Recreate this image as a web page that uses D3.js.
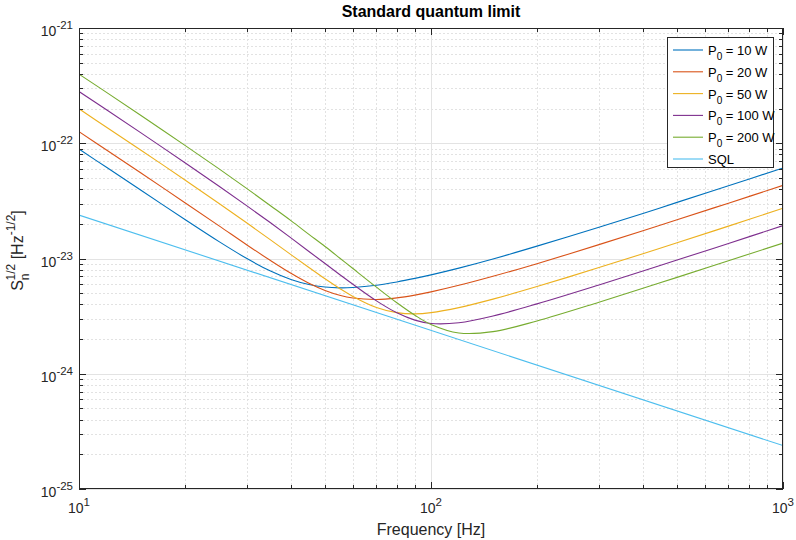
<!DOCTYPE html>
<html lang="en">
<head>
  <meta charset="UTF-8">
  <title>Standard quantum limit</title>
  <script src="https://d3js.org/d3.v7.min.js"></script>
  <style>
    body
    {
      margin: 0;
      padding: 0;
      background-color: #fff;
      font-family: "Liberation Sans", Arial, sans-serif;
    }
  </style>
</head>
<body>
  <svg width="796" height="540"></svg>
  <script>
    // values
    const freqs = [10, 12, 15, 20, 25, 30, 35, 40, 45, 50, 55, 60, 70, 80, 90, 100, 120, 150, 200, 300, 400, 500, 700, 1000];
    const p10 = [8.90e-23, 6.15e-23, 3.91e-23, 2.18e-23, 1.40e-23, 9.98e-24, 7.78e-24, 6.57e-24, 5.94e-24, 5.65e-24, 5.56e-24, 5.60e-24, 5.86e-24, 6.26e-24, 6.72e-24, 7.21e-24, 8.25e-24, 9.90e-24, 1.28e-23, 1.87e-23, 2.46e-23, 3.07e-23, 4.28e-23, 6.10e-23];
    const p20 = [1.26e-22, 8.69e-23, 5.51e-23, 3.05e-23, 1.92e-23, 1.31e-23, 9.60e-24, 7.44e-24, 6.10e-24, 5.28e-24, 4.80e-24, 4.54e-24, 4.41e-24, 4.55e-24, 4.81e-24, 5.13e-24, 5.85e-24, 7.01e-24, 9.02e-24, 1.32e-23, 1.74e-23, 2.17e-23, 3.02e-23, 4.31e-23];
    const p50 = [1.99e-22, 1.37e-22, 8.70e-23, 4.80e-23, 3.00e-23, 2.03e-23, 1.45e-23, 1.08e-23, 8.36e-24, 6.67e-24, 5.50e-24, 4.69e-24, 3.76e-24, 3.39e-24, 3.31e-24, 3.39e-24, 3.75e-24, 4.44e-24, 5.71e-24, 8.34e-24, 1.10e-23, 1.37e-23, 1.91e-23, 2.73e-23];
    const p100 = [2.81e-22, 1.94e-22, 1.23e-22, 6.78e-23, 4.23e-23, 2.86e-23, 2.04e-23, 1.51e-23, 1.15e-23, 9.05e-24, 7.27e-24, 5.97e-24, 4.29e-24, 3.38e-24, 2.92e-24, 2.73e-24, 2.77e-24, 3.17e-24, 4.04e-24, 5.90e-24, 7.79e-24, 9.70e-24, 1.35e-23, 1.93e-23];
    const p200 = [3.98e-22, 2.75e-22, 1.74e-22, 9.59e-23, 5.99e-23, 4.04e-23, 2.87e-23, 2.13e-23, 1.62e-23, 1.27e-23, 1.01e-23, 8.18e-24, 5.64e-24, 4.13e-24, 3.22e-24, 2.68e-24, 2.26e-24, 2.32e-24, 2.87e-24, 4.17e-24, 5.51e-24, 6.86e-24, 9.57e-24, 1.36e-23];
    const sqlFreqs = [10, 1000];
    const sql = [2.38e-23, 2.38e-25];

    const seriesNames = ["10 W", "20 W", "50 W", "100 W", "200 W", "SQL"];
    const colors = ["#0072BD", "#D95319", "#EDB120", "#7E2F8E", "#77AC30", "#4DBEEE"];

    const xTicks = [10, 100, 1000];
    const yTicks = [1e-25, 1e-24, 1e-23, 1e-22, 1e-21];

    const margin = { left: 79, right: 13, top: 28, bottom: 51 };
    const width = 796, height = 540;
    const axisColor = "#262626";

    const svg = d3.select("svg");

    const x = d3.scaleLog().domain([10, 1000]).range([margin.left, width - margin.right]);
    const y = d3.scaleLog().domain([1e-25, 1e-21]).range([height - margin.bottom, margin.top]);

    const x0 = x.range()[0], x1 = x.range()[1];
    const y0 = y.range()[0], y1 = y.range()[1];

    svg.append("rect")
      .attr("x", x0).attr("y", y1)
      .attr("width", x1 - x0).attr("height", y0 - y1)
      .attr("fill", "#fff");

    // minor ticks: 2..9 times each decade
    const isMajor = v => Math.abs(Math.log10(v) - Math.round(Math.log10(v))) < 1e-9;
    const xAll = x.ticks(20);
    const yAll = [];
    for (let e = -25; e < -21; e++) {
      for (let m = 1; m < 10; m++) yAll.push(m * Math.pow(10, e));
    }
    yAll.push(1e-21);
    const xMinor = xAll.filter(v => !isMajor(v));
    const yMinor = yAll.filter(v => !isMajor(v));

    const grid = svg.append("g");
    grid.selectAll(".xminor").data(xMinor).enter().append("line")
      .attr("x1", d => Math.round(x(d)) + 0.5).attr("x2", d => Math.round(x(d)) + 0.5)
      .attr("y1", y0).attr("y2", y1)
      .attr("stroke", "#e2e2e2").attr("stroke-dasharray", "2,2");
    grid.selectAll(".yminor").data(yMinor).enter().append("line")
      .attr("y1", d => Math.round(y(d)) + 0.5).attr("y2", d => Math.round(y(d)) + 0.5)
      .attr("x1", x0).attr("x2", x1)
      .attr("stroke", "#e2e2e2").attr("stroke-dasharray", "2,2");
    grid.selectAll(".xmajor").data(xTicks).enter().append("line")
      .attr("x1", d => Math.round(x(d)) + 0.5).attr("x2", d => Math.round(x(d)) + 0.5)
      .attr("y1", y0).attr("y2", y1)
      .attr("stroke", "#e3e3e3");
    grid.selectAll(".ymajor").data(yTicks).enter().append("line")
      .attr("y1", d => Math.round(y(d)) + 0.5).attr("y2", d => Math.round(y(d)) + 0.5)
      .attr("x1", x0).attr("x2", x1)
      .attr("stroke", "#e3e3e3");

    // curves
    svg.append("clipPath").attr("id", "clip")
      .append("rect")
      .attr("x", x0).attr("y", y1)
      .attr("width", x1 - x0).attr("height", y0 - y1);

    const series = [
      { f: freqs, v: p10 },
      { f: freqs, v: p20 },
      { f: freqs, v: p50 },
      { f: freqs, v: p100 },
      { f: freqs, v: p200 },
      { f: sqlFreqs, v: sql }
    ];

    const line = d3.line()
      .x(d => x(d[0]))
      .y(d => y(d[1]))
      .curve(d3.curveCatmullRom.alpha(0.5));

    svg.append("g").attr("clip-path", "url(#clip)")
      .selectAll("path")
      .data(series)
      .enter()
      .append("path")
      .attr("d", s => line(s.f.map((f, i) => [f, s.v[i]])))
      .attr("fill", "none")
      .attr("stroke", (s, i) => colors[i])
      .attr("stroke-width", 1.1);

    // box and ticks on all four sides
    const axes = svg.append("g").attr("stroke", axisColor).attr("stroke-width", 1);
    axes.append("rect")
      .attr("x", x0 + 0.5).attr("y", y1 + 0.5)
      .attr("width", x1 - x0 - 1).attr("height", y0 - y1 - 1)
      .attr("fill", "none");

    xAll.forEach(v => {
      const len = isMajor(v) ? 7 : 4;
      const px = Math.round(x(v)) + 0.5;
      axes.append("line").attr("x1", px).attr("x2", px).attr("y1", y0).attr("y2", y0 - len);
      axes.append("line").attr("x1", px).attr("x2", px).attr("y1", y1).attr("y2", y1 + len);
    });
    yAll.forEach(v => {
      const len = isMajor(v) ? 7 : 4;
      const py = Math.round(y(v)) + 0.5;
      axes.append("line").attr("y1", py).attr("y2", py).attr("x1", x0).attr("x2", x0 + len);
      axes.append("line").attr("y1", py).attr("y2", py).attr("x1", x1).attr("x2", x1 - len);
    });

    // tick labels with exponents
    const labels = svg.append("g").attr("fill", axisColor).attr("font-size", 14);
    xTicks.forEach(v => {
      const t = labels.append("text")
        .attr("x", x(v)).attr("y", y0 + 24)
        .attr("text-anchor", "middle");
      t.append("tspan").text("10");
      t.append("tspan").attr("dy", -7).attr("font-size", 11.5).text(Math.round(Math.log10(v)));
    });
    yTicks.forEach(v => {
      const t = labels.append("text")
        .attr("x", x0 - 6).attr("y", y(v) + 8)
        .attr("text-anchor", "end");
      t.append("tspan").text("10");
      t.append("tspan").attr("dy", -7).attr("font-size", 11.5).text(Math.round(Math.log10(v)));
    });

    // title and axis labels
    svg.append("text")
      .attr("x", (x0 + x1) / 2).attr("y", 17)
      .attr("text-anchor", "middle")
      .attr("font-size", 16).attr("font-weight", "bold")
      .attr("fill", "#000")
      .text("Standard quantum limit");

    svg.append("text")
      .attr("x", (x0 + x1) / 2).attr("y", 535)
      .attr("text-anchor", "middle")
      .attr("font-size", 16)
      .attr("fill", axisColor)
      .text("Frequency [Hz]");

    const yl = svg.append("text")
      .attr("transform", `translate(23,${(y0 + y1) / 2 - 8}) rotate(-90)`)
      .attr("text-anchor", "middle")
      .attr("font-size", 16)
      .attr("fill", axisColor);
    yl.append("tspan").text("S");
    yl.append("tspan").attr("dy", 6).attr("font-size", 12).text("n");
    yl.append("tspan").attr("dx", -7).attr("dy", -14).attr("font-size", 12).text("1/2");
    yl.append("tspan").attr("dy", 8).text(" [Hz");
    yl.append("tspan").attr("dy", -8).attr("font-size", 12).text("-1/2");
    yl.append("tspan").attr("dy", 8).text("]");

    // legend
    const lg = svg.append("g");
    const lgX = 667, lgY = 37, lgW = 106, lgH = 130;
    lg.append("rect")
      .attr("x", lgX + 0.5).attr("y", lgY + 0.5)
      .attr("width", lgW).attr("height", lgH)
      .attr("fill", "#fff").attr("stroke", axisColor);

    seriesNames.forEach((name, i) => {
      const cy = lgY + 13 + i * 21.8;
      lg.append("line")
        .attr("x1", lgX + 6).attr("x2", lgX + 36)
        .attr("y1", cy).attr("y2", cy)
        .attr("stroke", colors[i]).attr("stroke-width", 1.1);
      const t = lg.append("text")
        .attr("x", lgX + 41).attr("y", cy + 5)
        .attr("font-size", 13).attr("fill", "#000");
      if (name === "SQL") {
        t.text("SQL");
      } else {
        t.append("tspan").text("P");
        t.append("tspan").attr("dy", 5).attr("font-size", 10).text("0");
        t.append("tspan").attr("dy", -5).text(" = " + name);
      }
    });
  </script>
</body>
</html>
